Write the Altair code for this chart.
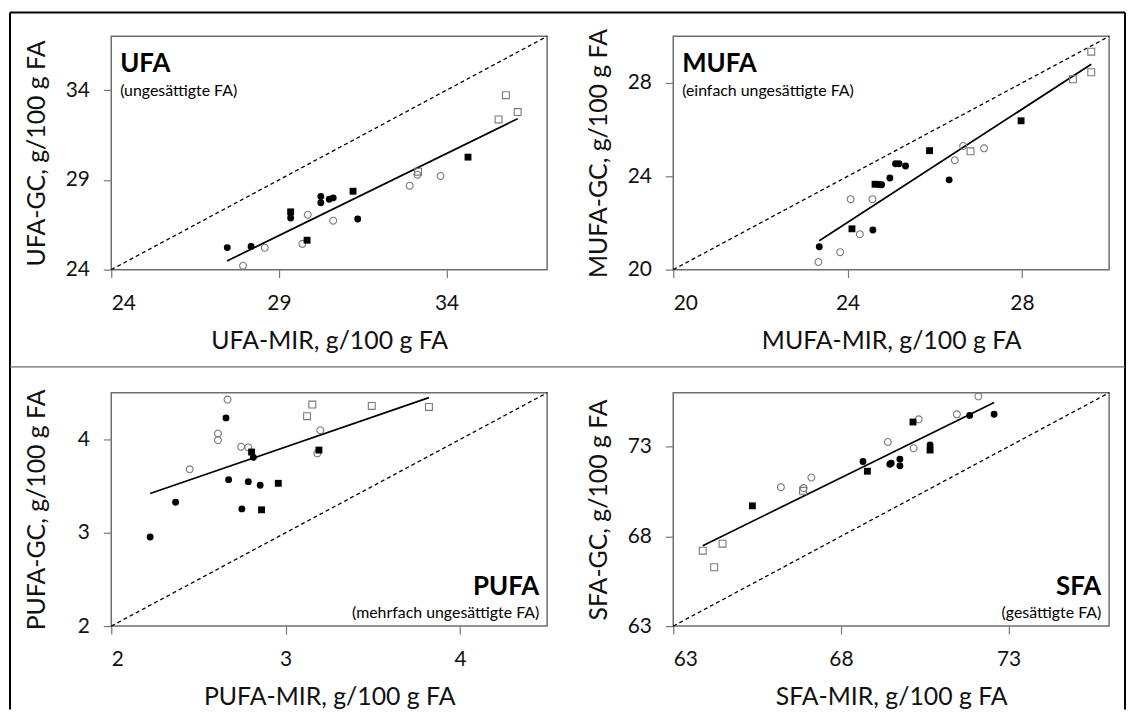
import altair as alt
import pandas as pd

# ---------------- data ----------------
# group codes: A = filled circle, B = open circle, C = filled square, D = open square
ufa_mir = [27.46, 28.17, 29.35, 30.25, 30.25, 30.50, 30.62, 31.35,
           28.58, 27.93, 29.86, 29.70, 30.62, 32.90, 33.13, 33.82,
           29.35, 29.84, 31.21, 34.64,
           33.15, 35.55, 35.77, 36.12]
ufa_gc = [25.23, 25.29, 26.88, 28.08, 27.73, 27.92, 28.00, 26.82,
          25.22, 24.22, 27.06, 25.44, 26.73, 28.68, 29.29, 29.22,
          27.22, 25.64, 28.37, 30.27,
          29.46, 32.37, 33.72, 32.78]
ufa_grp = ["A"] * 8 + ["B"] * 8 + ["C"] * 4 + ["D"] * 4
ufa_fit_mir = [27.45, 36.12]
ufa_fit_gc = [24.48, 32.41]

mufa_mir = [23.35, 24.58, 24.72, 24.78, 24.97, 25.10, 25.18, 25.33, 26.33,
            23.33, 23.83, 24.28, 24.07, 24.57, 26.46, 26.65, 27.13,
            24.10, 24.63, 25.88, 27.98,
            26.82, 29.17, 29.59, 29.59]
mufa_gc = [20.98, 21.70, 23.65, 23.64, 23.93, 24.54, 24.54, 24.44, 23.85,
           20.33, 20.75, 21.52, 23.02, 23.02, 24.69, 25.30, 25.20,
           21.75, 23.66, 25.10, 26.38,
           25.07, 28.16, 29.34, 28.46]
mufa_grp = ["A"] * 9 + ["B"] * 8 + ["C"] * 4 + ["D"] * 4
mufa_fit_mir = [23.35, 29.59]
mufa_fit_gc = [21.24, 28.80]

pufa_mir = [2.223, 2.369, 2.658, 2.815, 2.673, 2.786, 2.854, 2.749,
            2.450, 2.612, 2.612, 2.667, 2.745, 2.786, 3.199, 3.182,
            2.805, 2.958, 2.862, 3.191,
            3.123, 3.153, 3.494, 3.822]
pufa_gc = [2.954, 3.327, 4.231, 3.808, 3.569, 3.548, 3.509, 3.256,
           3.680, 4.064, 3.993, 4.427, 3.922, 3.915, 4.099, 3.851,
           3.865, 3.530, 3.246, 3.886,
           4.249, 4.374, 4.359, 4.348]
pufa_grp = ["A"] * 8 + ["B"] * 8 + ["C"] * 4 + ["D"] * 4
pufa_fit_mir = [2.223, 3.822]
pufa_fit_gc = [3.420, 4.448]

sfa_mir = [68.66, 69.46, 69.50, 69.76, 69.76, 70.66, 71.84, 72.57,
           66.21, 66.89, 67.12, 69.40, 70.17, 70.32, 71.46, 72.10,
           65.36, 68.79, 70.15, 70.66,
           63.88, 64.47, 64.22, 66.87]
sfa_gc = [72.17, 72.02, 72.07, 72.30, 71.93, 73.09, 74.74, 74.80,
          70.74, 70.69, 71.28, 73.26, 72.91, 74.52, 74.80, 75.80,
          69.70, 71.63, 74.37, 72.81,
          67.20, 67.59, 66.28, 70.54]
sfa_grp = ["A"] * 8 + ["B"] * 8 + ["C"] * 4 + ["D"] * 4
sfa_fit_mir = [63.88, 72.57]
sfa_fit_gc = [67.48, 75.46]

panels = [
    dict(name="UFA", sub="(ungesättigte FA)", xt="UFA-MIR, g/100 g FA", yt="UFA-GC, g/100 g FA",
         lo=24, hi=37, ticks=[24, 29, 34], x=ufa_mir, y=ufa_gc, g=ufa_grp,
         fx=ufa_fit_mir, fy=ufa_fit_gc, top=True),
    dict(name="MUFA", sub="(einfach ungesättigte FA)", xt="MUFA-MIR, g/100 g FA", yt="MUFA-GC, g/100 g FA",
         lo=20, hi=30, ticks=[20, 24, 28], x=mufa_mir, y=mufa_gc, g=mufa_grp,
         fx=mufa_fit_mir, fy=mufa_fit_gc, top=True),
    dict(name="PUFA", sub="(mehrfach ungesättigte FA)", xt="PUFA-MIR, g/100 g FA", yt="PUFA-GC, g/100 g FA",
         lo=2, hi=4.5, ticks=[2, 3, 4], x=pufa_mir, y=pufa_gc, g=pufa_grp,
         fx=pufa_fit_mir, fy=pufa_fit_gc, top=False),
    dict(name="SFA", sub="(gesättigte FA)", xt="SFA-MIR, g/100 g FA", yt="SFA-GC, g/100 g FA",
         lo=63, hi=76, ticks=[63, 68, 73], x=sfa_mir, y=sfa_gc, g=sfa_grp,
         fx=sfa_fit_mir, fy=sfa_fit_gc, top=False),
]

W, H = 439, 235
FONT = "Lato"


def make_panel(p, with_frame=False):
    df = pd.DataFrame({"mir": p["x"], "gc": p["y"], "g": p["g"]})
    sc = alt.Scale(domain=[p["lo"], p["hi"]], nice=False, zero=False)
    xenc = alt.X("mir:Q", scale=sc,
                 axis=alt.Axis(values=p["ticks"], title=p["xt"], titleY=79,
                               titleBaseline="alphabetic", labelBaseline="alphabetic",
                               labelPadding=32))
    yenc = alt.Y("gc:Q", scale=sc,
                 axis=alt.Axis(values=p["ticks"], title=p["yt"], titleX=-67,
                               titleBaseline="alphabetic", labelPadding=14))
    shp = alt.Shape("g:N", scale=alt.Scale(domain=["A", "B", "C", "D"],
                                           range=["circle", "circle", "square", "square"]),
                    legend=None)

    diag = alt.Chart(pd.DataFrame({"mir": [p["lo"], p["hi"]], "gc": [p["lo"], p["hi"]]})).mark_line(
        color="black", strokeDash=[4, 3], strokeWidth=1.3).encode(x=xenc, y=yenc)
    fit = alt.Chart(pd.DataFrame({"mir": p["fx"], "gc": p["fy"]})).mark_line(
        color="black", strokeWidth=1.7).encode(x=xenc, y=yenc)
    base = alt.Chart(df)
    open_pts = base.transform_filter(
        alt.FieldOneOfPredicate(field="g", oneOf=["B", "D"])).mark_point(
        filled=False, color="#7a7a7a", size=48, strokeWidth=1.1, opacity=1).encode(
        x=xenc, y=yenc, shape=shp)
    fill_pts = base.transform_filter(
        alt.FieldOneOfPredicate(field="g", oneOf=["A", "C"])).mark_point(
        filled=True, color="black", size=48, opacity=1).encode(
        x=xenc, y=yenc, shape=shp)

    tdf = pd.DataFrame({"t": [p["name"]], "s": [p["sub"]]})
    if p["top"]:
        name = alt.Chart(tdf).mark_text(font=FONT, fontSize=26, fontWeight="bold", align="left",
                                        baseline="alphabetic", color="black").encode(
            text="t:N", x=alt.value(9), y=alt.value(36))
        sub = alt.Chart(tdf).mark_text(font=FONT, fontSize=16, align="left",
                                       baseline="alphabetic", color="black").encode(
            text="s:N", x=alt.value(9), y=alt.value(60))
    else:
        name = alt.Chart(tdf).mark_text(font=FONT, fontSize=26, fontWeight="bold", align="right",
                                        baseline="alphabetic", color="black").encode(
            text="t:N", x=alt.value(W - 8), y=alt.value(H - 31))
        sub = alt.Chart(tdf).mark_text(font=FONT, fontSize=16, align="right",
                                       baseline="alphabetic", color="black").encode(
            text="s:N", x=alt.value(W - 8), y=alt.value(H - 8))

    layers = [diag, fit, open_pts, fill_pts, name, sub]
    if with_frame:
        one = pd.DataFrame({"k": [0]})
        left = alt.Chart(one).mark_rule(color="black", strokeWidth=2).encode(
            x=alt.value(-102), y=alt.value(-24), y2=alt.value(678))
        right = alt.Chart(one).mark_rule(color="black", strokeWidth=2).encode(
            x=alt.value(1021), y=alt.value(-24), y2=alt.value(678))
        topb = alt.Chart(one).mark_rule(color="black", strokeWidth=2).encode(
            x=alt.value(-102), x2=alt.value(1021), y=alt.value(-24))
        sep = alt.Chart(one).mark_rule(color="#6a6a6a", strokeWidth=1.3).encode(
            x=alt.value(-102), x2=alt.value(1021), y=alt.value(333))
        layers += [left, right, topb, sep]
    return alt.layer(*layers).properties(width=W, height=H)


charts = [make_panel(p, with_frame=(i == 0)) for i, p in enumerate(panels)]

chart = alt.concat(*charts, columns=2, spacing={"row": 124, "column": 127}, bounds="flush",
                   padding=0).configure_view(
    stroke="#6e6e6e", strokeWidth=1.5
).configure_axis(
    labelFont=FONT, labelFontSize=21, labelColor="#111111",
    titleFont=FONT, titleFontSize=25, titleFontWeight="normal", titleColor="#111111",
    tickColor="#777777", tickSize=8, tickWidth=1.2, domain=False, grid=False
).properties(background="white")

chart.save("out.html", embed_options={"renderer": "svg", "actions": False})
